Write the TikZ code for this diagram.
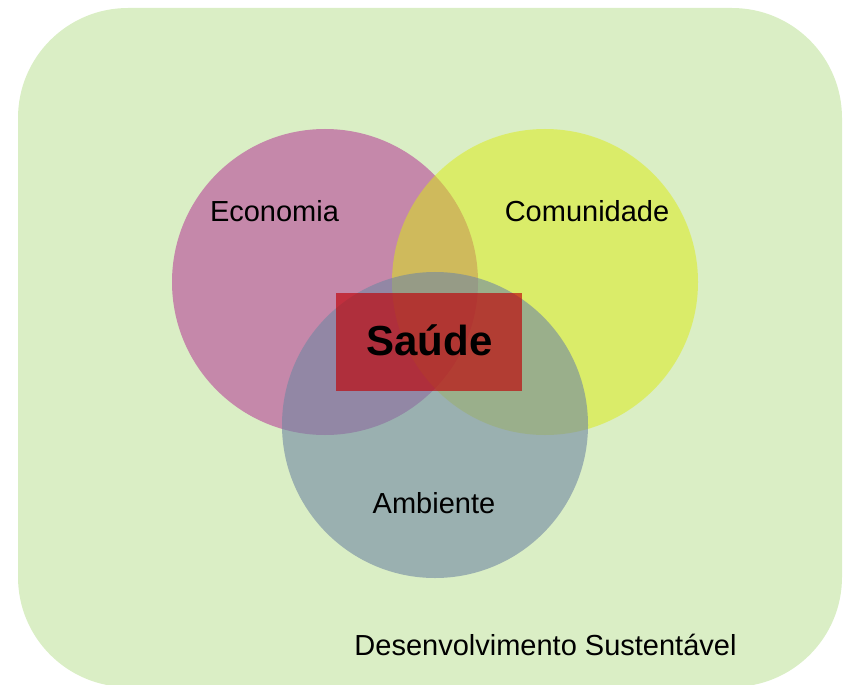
\documentclass[tikz,border=0pt]{standalone}
\usepackage{fontspec}
\setmainfont{Liberation Sans}
\definecolor{bggreen}{RGB}{218,238,197}
\definecolor{econpink}{RGB}{197,136,170}
\definecolor{comyellow}{RGB}{218,236,15}
\definecolor{ambblue}{RGB}{112,135,162}
\definecolor{saudered}{RGB}{192,0,5}
\tikzset{
  venn/.style={circle, minimum size=306bp, inner sep=0pt, draw=none},
  lbl/.style={font=\fontsize{29bp}{34bp}\selectfont, text=black, inner sep=0pt, anchor=base},
}
\begin{document}
\begin{tikzpicture}[x=1bp,y=-1bp]
\useasboundingbox (0,0) rectangle (846,685);
\begin{scope}
\clip (0,0) rectangle (846,685);
\fill[bggreen, rounded corners=110bp] (18,8) rectangle (842,687);
\end{scope}
\node[venn, fill=econpink] (econ) at (325,282) {};
\node[venn, fill=comyellow, fill opacity=0.5] (comu) at (545,282) {};
\node[venn, fill=ambblue, fill opacity=0.6] (amb) at (435,425) {};
\node[fill=saudered, fill opacity=0.65, text opacity=1, minimum width=186bp, minimum height=98bp, inner sep=0pt] (saude) at (429,342) {};
\node[font=\fontsize{42bp}{48bp}\selectfont\bfseries, inner sep=0pt, anchor=base] (saudetxt) at (429.5,355) {Saúde};
\node[lbl] (econlbl) at (274.5,221) {Economia};
\node[lbl] (comulbl) at (587,221) {Comunidade};
\node[lbl] (amblbl) at (434,513) {Ambiente};
\node[lbl] (dslbl) at (545.5,655) {Desenvolvimento Sustentável};
\end{tikzpicture}
\end{document}
